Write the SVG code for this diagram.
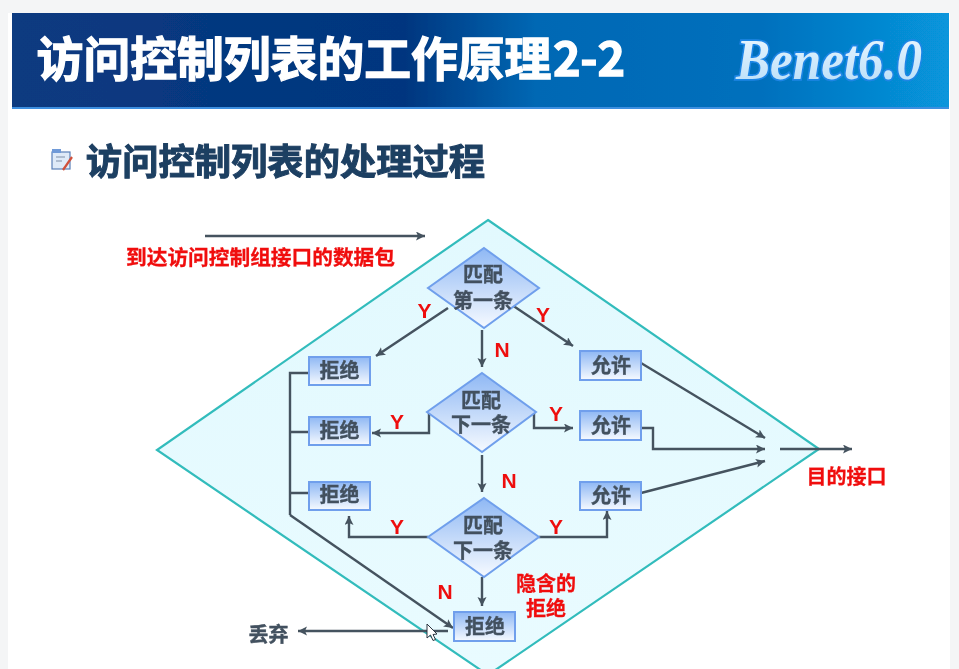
<svg xmlns="http://www.w3.org/2000/svg" width="959" height="669" viewBox="0 0 959 669">
<defs>
<linearGradient id="hdr" x1="0" x2="1" y1="0" y2="0"><stop offset="0" stop-color="#0a3a80"/><stop offset="0.42" stop-color="#02367f"/><stop offset="0.56" stop-color="#0468b4"/><stop offset="0.8" stop-color="#0470bd"/><stop offset="1" stop-color="#0796dc"/></linearGradient>
<linearGradient id="nodeFill" x1="0" x2="0" y1="0" y2="1"><stop offset="0" stop-color="#8fb8f4"/><stop offset="1" stop-color="#f6faff"/></linearGradient>
<linearGradient id="logoFill" x1="0" x2="0" y1="0" y2="1"><stop offset="0" stop-color="#f0f9ff"/><stop offset="1" stop-color="#b4dcf8"/></linearGradient>
<linearGradient id="zoneFill" x1="0" x2="0" y1="0" y2="1"><stop offset="0" stop-color="#e2f9fe"/><stop offset="1" stop-color="#e9fbff"/></linearGradient>
<marker id="arr" markerUnits="userSpaceOnUse" markerWidth="11" markerHeight="10" refX="9" refY="4.500" orient="auto"><path d="M0 0L9 4.500L0 9L2 4.500Z" fill="#44525e"/></marker>
<filter id="soft" x="0" y="0" width="100%" height="100%"><feGaussianBlur stdDeviation="0.45"/></filter>
</defs>
<style>
text{font-family:"Noto Sans CJK SC","Liberation Sans",sans-serif;font-weight:700;text-anchor:middle}
.box{fill:url(#nodeFill);stroke:#6f9fec;stroke-width:2}
.dia{fill:url(#nodeFill);stroke:#6f9fec;stroke-width:2}
.nt{font-size:20px;fill:#43515f;stroke:#43515f;stroke-width:.4}
.red{font-size:20.700px;fill:#f01010;stroke:#f01010;stroke-width:.3}
.yn{font-size:21px;fill:#ee1111;font-family:"Liberation Sans",sans-serif}
.c{fill:none;stroke:#44525e;stroke-width:2.400}
.a{marker-end:url(#arr)}
</style>
<g filter="url(#soft)">
<rect width="959" height="669" fill="#f4f5f6"/>
<rect x="8" y="13" width="942" height="656" fill="#fff"/>
<rect x="12" y="13" width="937" height="95" fill="url(#hdr)"/>
<rect x="12" y="107" width="937" height="2" fill="#3d8fe0"/>
<text x="294" y="76" font-size="46.800" fill="#fff" stroke="#fff" stroke-width="1.300">访问控制列表的工作原理</text>
<text x="589" y="76" font-size="46.800" fill="#fff" stroke="#fff" stroke-width="1.300" textLength="72" lengthAdjust="spacing">2-2</text>
<text x="829" y="79" font-size="58" fill="url(#logoFill)" stroke="#1e86e6" stroke-width="3.500" paint-order="stroke" style="font-family:'Liberation Serif',serif;font-style:italic;font-weight:700" textLength="186" lengthAdjust="spacingAndGlyphs">Benet6.0</text>
<g id="icon"><rect x="52" y="152" width="18" height="17" fill="#dfeaf8" stroke="#5a7fb8" stroke-width="1.200"/><rect x="52" y="149" width="9" height="4" fill="#6f9ad8"/><path d="M56 157h9M56 161h6" stroke="#7f8fa8" stroke-width="1"/><path d="M72 157L63 170" stroke="#d0503a" stroke-width="2.200"/></g>
<text x="285.500" y="175" font-size="36.300" fill="#1e3f62" stroke="#1e3f62" stroke-width="1">访问控制列表的处理过程</text>
<polygon id="zone" points="488,220 819,449 488,675 157,450" fill="url(#zoneFill)" stroke="#33bcbc" stroke-width="2.200"/>
<g id="connectors">
<path class="c a" d="M205 236H425"/>
<path class="c a" d="M448 308L376 356"/>
<path class="c a" d="M482 330V367"/>
<path class="c a" d="M512 305L573 346"/>
<path class="c" d="M309 373H290V515"/>
<path class="c" d="M290 432H309M290 493H309"/>
<path class="c a" d="M290 515L453 628"/>
<path class="c a" d="M429 413V433H372"/>
<path class="c a" d="M534 413V428H573"/>
<path class="c a" d="M482 455V492"/>
<path class="c a" d="M428 537H349V516"/>
<path class="c a" d="M539 537H607V511"/>
<path class="c a" d="M482 577V606"/>
<path class="c a" d="M448 631H298"/>
<path class="c a" d="M641 363L765 438"/>
<path class="c a" d="M641 428H653V449H765"/>
<path class="c a" d="M641 493L765 461"/>
<path class="c a" d="M780 449H852"/>
</g>
<g id="d1"><polygon class="dia" points="484,248 539,288 484,328 428,288"/><text class="nt" x="483" y="282">匹配</text><text class="nt" x="483" y="308">第一条</text></g>
<g id="d2"><polygon class="dia" points="482,373 536,412 482,452 427,412"/><text class="nt" x="481" y="408">匹配</text><text class="nt" x="481" y="432">下一条</text></g>
<g id="d3"><polygon class="dia" points="484,498 539,537 484,577 428,537"/><text class="nt" x="483" y="533">匹配</text><text class="nt" x="483" y="558">下一条</text></g>
<g id="r1"><rect class="box" x="309" y="357" width="61" height="28"/><text class="nt" x="339.500" y="378">拒绝</text></g>
<g id="r2"><rect class="box" x="309" y="417" width="61" height="28"/><text class="nt" x="339.500" y="438">拒绝</text></g>
<g id="r3"><rect class="box" x="309" y="482" width="61" height="28"/><text class="nt" x="339.500" y="502">拒绝</text></g>
<g id="r4"><rect class="box" x="454" y="612" width="61" height="29"/><text class="nt" x="485" y="634">拒绝</text></g>
<g id="p1"><rect class="box" x="580" y="351" width="61" height="29"/><text class="nt" x="611" y="373">允许</text></g>
<g id="p2"><rect class="box" x="580" y="411" width="61" height="29"/><text class="nt" x="611" y="433">允许</text></g>
<g id="p3"><rect class="box" x="580" y="482" width="61" height="28"/><text class="nt" x="611" y="503">允许</text></g>
<g id="labels">
<text class="red" x="260.500" y="265">到达访问控制组接口的数据包</text>
<text class="red" x="846.500" y="484" style="font-size:20px">目的接口</text>
<text class="red" x="546" y="591" style="font-size:20px">隐含的</text>
<text class="red" x="546" y="616" style="font-size:20px">拒绝</text>
<text class="nt" x="268.500" y="642">丢弃</text>
<text class="yn" x="424.500" y="318">Y</text>
<text class="yn" x="543" y="322">Y</text>
<text class="yn" x="502" y="357">N</text>
<text class="yn" x="397" y="429">Y</text>
<text class="yn" x="556" y="421">Y</text>
<text class="yn" x="509" y="488">N</text>
<text class="yn" x="397" y="534">Y</text>
<text class="yn" x="556" y="534">Y</text>
<text class="yn" x="445" y="599">N</text>
</g>
<polygon id="cursor" points="427,624 427,638 430.500,635 433,640.500 435.500,639.500 433,634.500 437,634" fill="#fff" stroke="#2c3440" stroke-width="1"/>
</g>
</svg>
